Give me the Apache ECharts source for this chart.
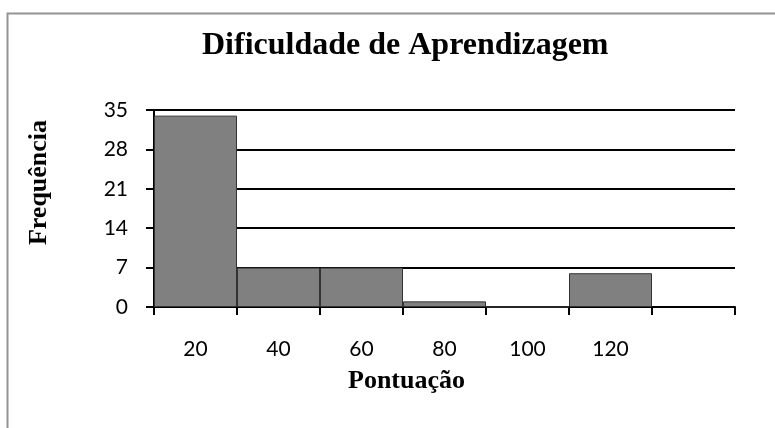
<!DOCTYPE html>
<html>
<head>
<meta charset="utf-8">
<script src="https://cdn.jsdelivr.net/npm/echarts@6/dist/echarts.min.js"></script>
<style>
  html, body { margin: 0; padding: 0; background: #fff; }
  #main { width: 775px; height: 428px; }
</style>
</head>
<body>
<div id="main"></div>
<script>
const categories = ['20', '40', '60', '80', '100', '120', '']
const frequencies = [34, 7, 7, 1, 0, 6, null]
const yTicks = { min: 0, max: 35, interval: 7 }

const serif = '"Liberation Serif", "Times New Roman", serif'
const sans = 'Lato, "Open Sans", sans-serif'

const myChart = echarts.init(document.getElementById('main'), null, { renderer: 'canvas' })

myChart.setOption({
  backgroundColor: '#fff',
  animation: false,
  graphic: [{
    type: 'rect',
    shape: { x: 7.5, y: 13.5, width: 800, height: 500 },
    style: { fill: 'none', stroke: '#939393', lineWidth: 2 },
    silent: true
  }],
  title: {
    text: 'Dificuldade de Aprendizagem',
    left: 197,
    top: 25,
    textStyle: { fontFamily: serif, fontWeight: 'bold', fontSize: 32, color: '#000' }
  },
  grid: { left: 154, right: 40, top: 110, bottom: 121 },
  xAxis: {
    type: 'category',
    data: categories,
    name: 'Pontuação',
    nameLocation: 'middle',
    nameGap: 61,
    nameTextStyle: {
      fontFamily: serif, fontWeight: 'bold', fontSize: 26, color: '#000',
      padding: [0, 76, 0, 0]
    },
    axisLine: { lineStyle: { color: '#000', width: 2 } },
    axisTick: { show: true, length: 8, lineStyle: { color: '#000', width: 2 } },
    axisLabel: { margin: 32, fontFamily: sans, fontSize: 21, color: '#000' }
  },
  yAxis: {
    type: 'value',
    min: yTicks.min,
    max: yTicks.max,
    interval: yTicks.interval,
    name: 'Frequência',
    nameLocation: 'middle',
    nameGap: 102,
    nameTextStyle: {
      fontFamily: serif, fontWeight: 'bold', fontSize: 26, color: '#000',
      padding: [0, 0, 0, 52]
    },
    axisLine: { show: true, lineStyle: { color: '#000', width: 2 } },
    axisTick: { show: true, length: 8, lineStyle: { color: '#000', width: 2 } },
    axisLabel: {
      margin: 26, fontFamily: sans, fontSize: 21, color: '#000',
      padding: [14, 0, 0, 0]
    },
    splitLine: { show: true, lineStyle: { color: '#000', width: 2 } }
  },
  series: [{
    type: 'bar',
    data: frequencies,
    barCategoryGap: '0%',
    itemStyle: { color: '#808080', borderColor: '#333', borderWidth: 1 }
  }]
})
</script>
</body>
</html>
